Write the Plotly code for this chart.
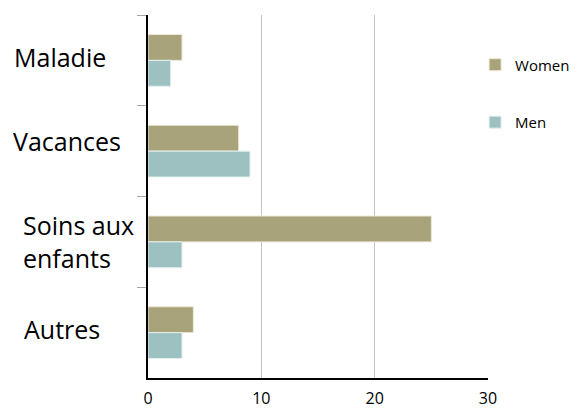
import plotly.graph_objects as go

categories = ["Maladie", "Vacances", "Soins aux enfants", "Autres"]
cat_labels = ["Maladie", "Vacances", "Soins aux<br>enfants", "Autres"]
women = [3, 8, 25, 4]
men = [2, 9, 3, 3]
x_ticks = [0, 10, 20, 30]

# the page body has an 8px margin, so the figure is sized to 569x402
# left edge / vertical nudge of each category label (they are not right aligned)
label_x = [-0.40, -0.403, -0.374, -0.371]
label_dy = [3, 10, 0, 4]

fig = go.Figure()
fig.add_trace(go.Bar(y=categories, x=women, name="Women", orientation="h",
                     marker=dict(color="#A8A37B", line=dict(color="#ECE8D6", width=1)),
                     legendgroup="w"))
fig.add_trace(go.Bar(y=categories, x=men, name="Men", orientation="h",
                     marker=dict(color="#9DC1C0", line=dict(color="#E4EFEE", width=1)),
                     legendgroup="m"))

for lab, lx, dy, cat in zip(cat_labels, label_x, label_dy, categories):
    fig.add_annotation(text=lab, x=lx, xref="paper", y=cat, yref="y",
                       xanchor="left", yanchor="middle", align="left", yshift=dy,
                       showarrow=False, font=dict(size=25, color="black"))

fig.update_layout(
    width=569, height=402,
    margin=dict(l=140, r=89, t=7, b=32, autoexpand=False),
    barmode="group", bargap=0.43,
    plot_bgcolor="white", paper_bgcolor="white",
    font=dict(family="Open Sans", color="black"),
    showlegend=True,
    legend=dict(x=0.962, y=0.908, xanchor="left", yanchor="top",
                bgcolor="rgba(0,0,0,0)",
                font=dict(size=15, color="black"), tracegroupgap=35,
                traceorder="grouped", itemwidth=30),
    xaxis=dict(range=[0, 30], tickvals=x_ticks, showgrid=True, gridcolor="#C4C4C4",
               gridwidth=1, showline=True, linecolor="black", linewidth=1.5,
               zeroline=False, ticks="", tickfont=dict(size=16),
               ticklabelstandoff=5),
    yaxis=dict(categoryorder="array", categoryarray=categories, autorange="reversed",
               showticklabels=False, ticks="outside", tickson="boundaries",
               ticklen=9, tickcolor="#A6A6A6", showline=True, linecolor="black",
               linewidth=1.5, showgrid=False),
)

fig.write_html("out.html")
